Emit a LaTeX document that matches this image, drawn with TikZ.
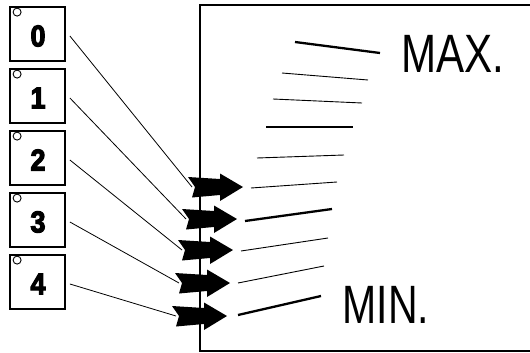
\documentclass[tikz,border=0pt]{standalone}
\usepackage{fontspec}
\setmainfont{Liberation Sans}
\newfontfamily\heavyfont{Liberation Sans Bold}[FakeBold=4]
\begin{document}
\begin{tikzpicture}[x=1pt,y=-1pt,
  numbox/.style={draw,line width=1.8pt,minimum width=55pt,minimum height=54pt,inner sep=0pt},
  digit/.style={inner sep=0pt,font=\heavyfont\fontsize{30}{30}\selectfont},
  bigtext/.style={inner sep=0pt,font=\fontsize{54}{54}\selectfont},
  conn/.style={line width=0.8pt},
  thinmark/.style={line width=0.9pt},
  thickmark/.style={line width=2.3pt},
  fatarrow/.pic={\fill (0,0) -- (-23,-13.5) -- (-23,-8) -- (-55,-10) -- (-48,0) -- (-51,10.5) -- (-23,8) -- (-23,14) -- cycle;}
]
\useasboundingbox (0,0) rectangle (530,353);
% big frame
\draw[line width=1.2pt] (531,5) -- (200,5) -- (200,351) -- (531,351);
% boxes
\foreach \i/\y in {0/34,1/96,2/158,3/220,4/282}{
  \node[numbox] (b\i) at (37.5,\y) {};
  \node[digit] (d\i) at (38,\y+2) {\scalebox{0.9}[1]{\i}};
  \draw[line width=0.9pt] ([xshift=8pt,yshift=-6pt]b\i.north west) circle (4);
}
% arrows
\foreach \i/\x/\y in {0/243/187,1/237/219,2/233/250,3/230/283,4/227/316}{
  \pic at (\x,\y) {fatarrow};
  \coordinate (t\i) at (\x-51,\y);
}
\foreach \i in {0,...,4}{
  \draw[conn] ([xshift=4pt,yshift=-2pt]b\i.east) -- (t\i);
}
% gauge marks
\draw[thickmark] (295,42) -- (380,53);
\draw[thinmark] (282,73) -- (368,80);
\draw[thinmark] (273,99) -- (362,103);
\draw[thickmark] (266,127) -- (353,127);
\draw[thinmark] (257,158) -- (344,155);
\draw[thinmark] (251,188) -- (337,182);
\draw[thickmark] (245,221) -- (332,209);
\draw[thinmark] (241,251) -- (328,238);
\draw[thinmark] (238,283) -- (324,266);
\draw[thickmark] (238,315) -- (321,296);
% labels
\node[bigtext] (max) at (453,54) {\scalebox{0.78}[1]{MAX.}};
\node[bigtext] (min) at (386,305) {\scalebox{0.76}[1]{MIN.}};
\end{tikzpicture}
\end{document}
